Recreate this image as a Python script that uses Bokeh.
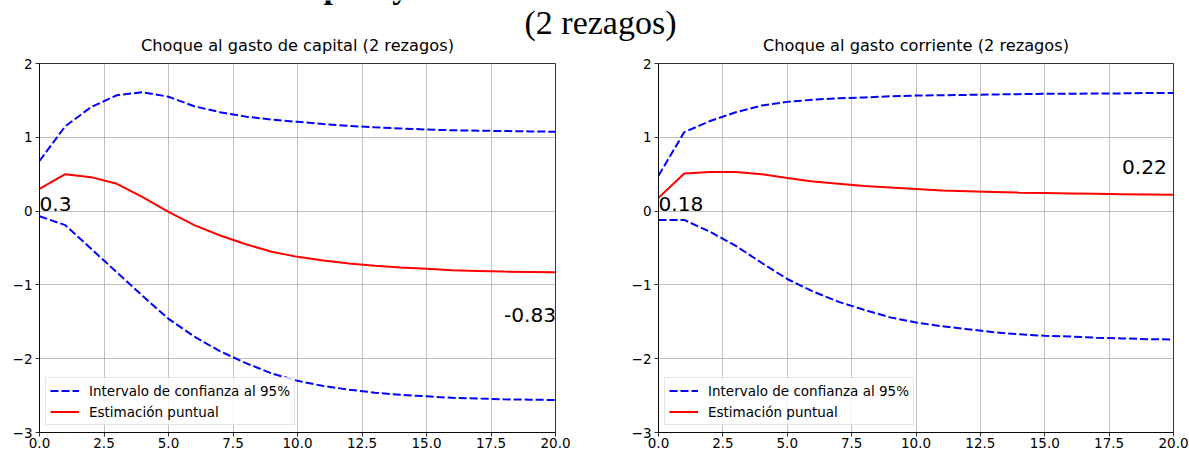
from bokeh.plotting import figure
from bokeh.layouts import column, row
from bokeh.models import Range1d, FixedTicker, Legend, LegendItem
from bokeh.core.properties import value
from bokeh.embed import file_html
from bokeh.resources import INLINE

# ---- data -------------------------------------------------------------
horizon = list(range(21))

capital_upper = [0.68, 1.15, 1.41, 1.57, 1.61, 1.55, 1.42, 1.34, 1.28, 1.24, 1.21,
                 1.18, 1.155, 1.135, 1.12, 1.105, 1.095, 1.09, 1.085, 1.08, 1.075]
capital_point = [0.30, 0.50, 0.46, 0.37, 0.19, -0.01, -0.19, -0.33, -0.45, -0.55, -0.62,
                 -0.67, -0.71, -0.74, -0.765, -0.78, -0.80, -0.81, -0.82, -0.825, -0.83]
capital_lower = [-0.07, -0.19, -0.51, -0.83, -1.15, -1.46, -1.70, -1.90, -2.06, -2.20, -2.30,
                 -2.37, -2.42, -2.46, -2.49, -2.51, -2.53, -2.54, -2.55, -2.555, -2.56]

current_upper = [0.48, 1.07, 1.22, 1.34, 1.43, 1.48, 1.51, 1.53, 1.54, 1.555, 1.565,
                 1.57, 1.575, 1.58, 1.585, 1.59, 1.59, 1.595, 1.595, 1.60, 1.60]
current_point = [0.18, 0.51, 0.53, 0.53, 0.50, 0.45, 0.40, 0.37, 0.34, 0.32, 0.30,
                 0.28, 0.27, 0.26, 0.25, 0.245, 0.24, 0.235, 0.23, 0.225, 0.22]
current_lower = [-0.12, -0.12, -0.28, -0.47, -0.70, -0.92, -1.09, -1.23, -1.34, -1.44, -1.51,
                 -1.56, -1.60, -1.64, -1.67, -1.69, -1.70, -1.715, -1.725, -1.735, -1.74]

# where the first / last point values are written (data coordinates, text baseline)
capital_label_pos = [(0, 0), (18, -1.5)]
current_label_pos = [(0, 0), (18, 0.5)]

x_ticks = [0, 2.5, 5, 7.5, 10, 12.5, 15, 17.5, 20]
x_tick_labels = ["0.0", "2.5", "5.0", "7.5", "10.0", "12.5", "15.0", "17.5", "20.0"]
y_ticks = [-3, -2, -1, 0, 1, 2]
y_tick_labels = ["\u22123", "\u22122", "\u22121", "0", "1", "2"]

main_title = "Empleo y salario del sector formal e informal"
sub_title = "(2 rezagos)"
panel_titles = ["Choque al gasto de capital (2 rezagos)",
                "Choque al gasto corriente (2 rezagos)"]
legend_labels = ["Intervalo de confianza al 95%", "Estimación puntual"]

SANS = "DejaVu Sans"
SERIF = "Liberation Serif"
HEADER_H = 55
FRAME_TOP = 63
TOTAL_W = 1189
# text is anchored on its middle; these shift the anchor from the baseline
SANS_MID = 0.346
SERIF_MID = 0.3375


def panel(upper, point, lower, label_pos, width, left, right):
    p = figure(width=width, height=450 - HEADER_H, output_backend="svg",
               toolbar_location=None, x_range=Range1d(0, 20), y_range=Range1d(-3, 2),
               min_border_left=left, min_border_right=right,
               min_border_top=FRAME_TOP - HEADER_H, min_border_bottom=0)
    p.background_fill_color = "white"
    p.border_fill_color = "white"
    p.outline_line_color = "black"
    p.outline_line_width = 0.8

    p.xaxis.ticker = FixedTicker(ticks=x_ticks)
    p.yaxis.ticker = FixedTicker(ticks=y_ticks)
    p.xaxis.major_label_overrides = dict(zip(x_ticks, x_tick_labels))
    p.yaxis.major_label_overrides = dict(zip(y_ticks, y_tick_labels))
    for ax in (p.xaxis, p.yaxis):
        ax.axis_line_color = "black"
        ax.axis_line_width = 0.8
        ax.major_tick_line_color = "black"
        ax.major_tick_line_width = 0.8
        ax.major_tick_in = 0
        ax.major_tick_out = 4
        ax.minor_tick_line_color = None
        ax.major_label_text_font = SANS
        ax.major_label_text_font_size = "13.5px"
        ax.major_label_text_color = "black"
    p.xaxis.major_label_standoff = 1
    p.yaxis.major_label_standoff = 3

    p.grid.grid_line_color = "#b0b0b0"
    p.grid.grid_line_width = 0.8

    r_ci = p.line(horizon, upper, line_color="#0000ff", line_width=2, line_dash="8 3")
    p.line(horizon, lower, line_color="#0000ff", line_width=2, line_dash="8 3")
    r_pt = p.line(horizon, point, line_color="#ff0000", line_width=2)

    (x0, y0), (x1, y1) = label_pos
    size = 20.2
    p.text(x=[x0, x1], y=[y0, y1], text=[f"{point[0]:g}", f"{point[-1]:g}"],
           text_font=value(SANS), text_font_size=f"{size}px", text_color="black",
           text_align="left", text_baseline="middle", y_offset=-SANS_MID * size)

    legend = Legend(items=[LegendItem(label=legend_labels[0], renderers=[r_ci]),
                           LegendItem(label=legend_labels[1], renderers=[r_pt])],
                    location=(6, 7), margin=0, padding=4, spacing=4,
                    glyph_width=29, glyph_height=17, label_height=17,
                    label_standoff=10, label_text_font=SANS,
                    label_text_font_size="13.5px", label_text_color="black",
                    border_line_color="#cccccc", border_line_width=1,
                    background_fill_color="white", background_fill_alpha=0.8)
    p.add_layout(legend)
    return p


left_w = 600
p1 = panel(capital_upper, capital_point, capital_lower, capital_label_pos, left_w, 39, 45)
p2 = panel(current_upper, current_point, current_lower, current_label_pos,
           TOTAL_W - left_w, 58, 16)

# header band with the overall title and the panel titles (pixel coordinates, y down)
head = figure(width=TOTAL_W, height=HEADER_H, output_backend="svg", toolbar_location=None,
              x_range=Range1d(0, TOTAL_W), y_range=Range1d(HEADER_H, 0),
              x_axis_type=None, y_axis_type=None,
              min_border_left=0, min_border_right=0, min_border_top=0, min_border_bottom=0)
head.outline_line_color = None
head.grid.visible = False
head.background_fill_color = "white"
head.border_fill_color = "white"

title_size = 34
head.text(x=[600], y=[-3 - SERIF_MID * title_size], text=[main_title], text_font=value(SERIF),
          text_font_style="bold", text_font_size=f"{title_size}px", text_color="black",
          text_align="center", text_baseline="middle")
head.text(x=[600], y=[33 - SERIF_MID * title_size], text=[sub_title], text_font=value(SERIF),
          text_font_size=f"{title_size}px", text_color="black",
          text_align="center", text_baseline="middle")
panel_size = 16.2
head.text(x=[(39 + 555) / 2, 600 + (58 + 573) / 2],
          y=[51 - SANS_MID * panel_size] * 2, text=panel_titles,
          text_font=value(SANS), text_font_size=f"{panel_size}px", text_color="black",
          text_align="center", text_baseline="middle")

layout = column(head, row(p1, p2, spacing=0), spacing=0)

with open("out.html", "w") as f:
    f.write(file_html(layout, INLINE))
